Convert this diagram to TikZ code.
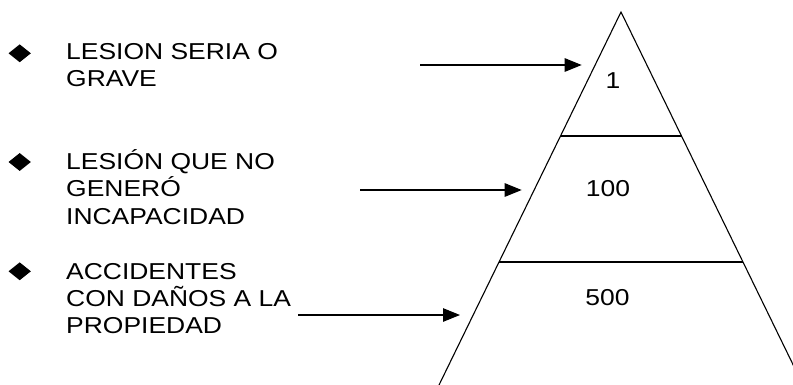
\documentclass[tikz,border=0pt]{standalone}
\usepackage{fontspec}
\setmainfont[FakeStretch=1.15]{Liberation Sans}
\usetikzlibrary{arrows.meta,shapes.geometric}
\begin{document}
\begin{tikzpicture}[x=1pt,y=-1pt,
  txt/.style={anchor=base west, inner sep=0pt, font=\fontsize{23}{27.5}\selectfont},
  num/.style={anchor=base, inner sep=0pt, font=\fontsize{23}{27.5}\selectfont},
  bullet/.style={diamond, fill=black, draw=none, inner sep=0pt, minimum width=22.5pt, minimum height=18pt},
  edge/.style={line width=1.1pt, line join=miter},
  pointer/.style={line width=1.1pt, -{Triangle[length=17pt,width=13.5pt]}}]
\useasboundingbox (0,0) rectangle (793,384);
\clip (0,0) rectangle (793,384);
% bullets
\node[bullet] (b1) at (19.7,53.3) {};
\node[bullet] (b2) at (19.7,162) {};
\node[bullet] (b3) at (19.7,271.3) {};
% texts
\node[txt] (t1a) at (66,59) {LESION SERIA O};
\node[txt] (t1b) at (66,86.7) {GRAVE};
\node[txt] (t2a) at (66,169.3) {LESIÓN QUE NO};
\node[txt] (t2b) at (66,196.7) {GENERÓ};
\node[txt] (t2c) at (66,224) {INCAPACIDAD};
\node[txt] (t3a) at (66,279.3) {ACCIDENTES};
\node[txt] (t3b) at (66,306) {CON DAÑOS A LA};
\node[txt] (t3c) at (66,333.3) {PROPIEDAD};
% pyramid
\coordinate (apex) at (621,12);
\coordinate (bl) at (431.7,400);
\coordinate (br) at (810.3,400);
\coordinate (l1) at (560.5,136);
\coordinate (r1) at (681.5,136);
\coordinate (l2) at (499,262);
\coordinate (r2) at (743,262);
\draw[edge] (bl) -- (apex) -- (br);
\draw[edge] (l1) -- (r1);
\draw[edge] (l2) -- (r2);
% numbers
\node[num] (n1) at (613,88) {1};
\node[num] (n2) at (608,196) {100};
\node[num] (n3) at (607.5,305) {500};
% arrows
\coordinate (a1s) at (420,65);
\coordinate (a1e) at (581.7,65);
\coordinate (a2s) at (360,190);
\coordinate (a2e) at (521.7,190);
\coordinate (a3s) at (298.3,315);
\coordinate (a3e) at (460,315);
\draw[pointer] (a1s) -- (a1e);
\draw[pointer] (a2s) -- (a2e);
\draw[pointer] (a3s) -- (a3e);
\end{tikzpicture}
\end{document}
